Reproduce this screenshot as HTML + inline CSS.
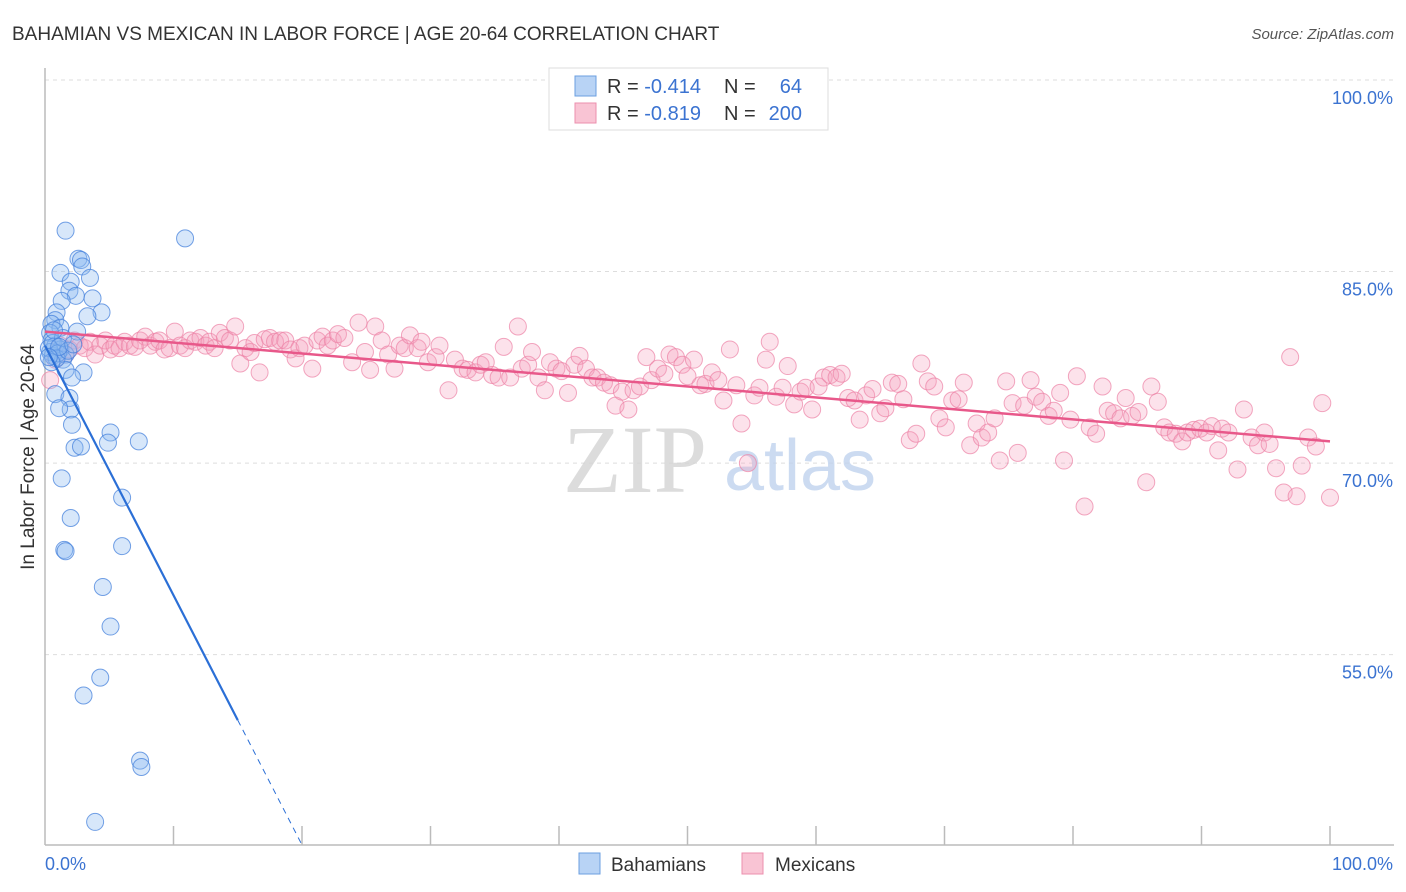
<!DOCTYPE html>
<html><head><meta charset="utf-8"><style>
body{margin:0;background:#fff;font-family:"Liberation Sans",sans-serif;}
svg{display:block}
</style></head><body>
<svg id="chart" width="1406" height="892" viewBox="0 0 1406 892">
<text x="12" y="40" font-size="19" fill="#333">BAHAMIAN VS MEXICAN IN LABOR FORCE | AGE 20-64 CORRELATION CHART</text>
<text x="1394" y="39" font-size="15" fill="#555" font-style="italic" text-anchor="end">Source: ZipAtlas.com</text>
<text x="0" y="0" transform="translate(34,457) rotate(-90)" font-size="19" fill="#333" text-anchor="middle">In Labor Force | Age 20-64</text>
<g id="grid"></g>
<g id="watermark">
<text x="635" y="492" font-size="96" font-family="Liberation Serif,serif" fill="#d4d4d4" text-anchor="middle" opacity="0.8">ZIP</text>
<text x="800" y="490" font-size="72" fill="#c0d3ee" text-anchor="middle" opacity="0.8">atlas</text>
</g>
<g id="axes"></g>
<g id="pink"></g>
<g id="blue"></g>
<g id="trends"></g>
<g>
<rect x="549" y="68" width="279" height="62" fill="#fff" stroke="#ddd"/>
<rect x="575" y="76" width="21" height="20" fill="#b8d3f5" stroke="#6b9fe0"/>
<rect x="575" y="103" width="21" height="20" fill="#f9c4d4" stroke="#ec8fae"/>
<text x="607" y="93" font-size="20" fill="#333">R = <tspan fill="#3b73d1">-0.414</tspan></text>
<text x="724" y="93" font-size="20" fill="#333">N =</text>
<text x="802" y="93" font-size="20" fill="#3b73d1" text-anchor="end">64</text>
<text x="607" y="120" font-size="20" fill="#333">R = <tspan fill="#3b73d1">-0.819</tspan></text>
<text x="724" y="120" font-size="20" fill="#333">N =</text>
<text x="802" y="120" font-size="20" fill="#3b73d1" text-anchor="end">200</text>
</g>
<g>
<rect x="579" y="853" width="21" height="21" fill="#b8d3f5" stroke="#6b9fe0"/>
<text x="611" y="871" font-size="19" fill="#333">Bahamians</text>
<rect x="742" y="853" width="21" height="21" fill="#f9c4d4" stroke="#ec8fae"/>
<text x="775" y="871" font-size="19" fill="#333">Mexicans</text>
</g>
</svg>
<script>
const yTicks=[100,85,70,55];
const xTickCount=10;
const blueX=[1.6,10.9,2.6,2.8,2.9,1.2,3.5,2.0,1.9,2.4,3.7,1.3,4.4,3.3,0.9,0.8,0.5,1.2,2.5,0.4,0.5,0.8,1.2,0.4,1.6,0.6,1.4,1.6,3.0,2.1,0.8,1.9,2.0,1.1,2.1,5.1,7.3,2.3,2.8,4.9,1.3,6.0,2.0,1.5,1.6,6.0,4.5,5.1,4.3,3.0,7.4,7.5,3.9,0.3,0.6,1.0,1.4,0.7,0.9,1.8,0.5,1.1,0.3,2.2];
const blueY=[88.2,87.6,86.0,85.9,85.4,84.9,84.5,84.2,83.5,83.1,82.9,82.7,81.8,81.5,81.8,81.2,80.9,80.6,80.3,80.2,79.6,79.2,78.9,78.7,78.5,78.4,78.1,77.3,77.1,76.7,75.4,75.1,74.2,74.3,73.0,72.4,71.7,71.2,71.3,71.6,68.8,67.3,65.7,63.2,63.1,63.5,60.3,57.2,53.2,51.8,46.7,46.2,41.9,79.0,79.4,78.6,79.8,80.4,78.2,78.8,77.9,79.1,78.3,79.3];
const pinkX=[0.4,0.8,1.2,1.6,1.9,2.3,2.7,3.1,3.5,3.9,4.3,4.7,5.1,5.4,5.8,6.2,6.6,7.0,7.4,7.8,8.2,8.6,8.9,9.3,9.7,10.1,10.5,10.9,11.3,11.7,12.1,12.5,12.8,13.2,13.6,14.0,14.4,14.8,15.2,15.6,16.0,16.3,16.7,17.1,17.5,17.9,18.3,18.7,19.1,19.5,19.8,20.2,20.8,21.2,21.6,22.0,22.4,22.8,23.3,23.9,24.4,24.9,25.3,25.7,26.2,26.7,27.2,27.6,28.0,28.4,29.0,29.3,29.8,30.4,30.7,31.4,31.9,32.5,32.9,33.5,33.9,34.3,34.8,35.3,35.7,36.2,36.8,37.1,37.6,37.9,38.4,38.9,39.3,39.8,40.2,40.7,41.2,41.6,42.1,42.6,43.0,43.5,44.0,44.4,44.9,45.4,45.8,46.3,46.8,47.2,47.7,48.2,48.6,49.1,49.6,50.0,50.5,51.0,51.4,51.9,52.4,52.8,53.3,53.8,54.2,54.7,55.2,55.6,56.1,56.4,56.9,57.4,57.8,58.3,58.8,59.2,59.7,60.2,60.6,61.1,61.6,62.0,62.5,63.0,63.4,63.9,64.4,65.0,65.4,65.9,66.4,66.8,67.3,67.8,68.2,68.7,69.2,69.6,70.1,70.6,71.1,71.5,72.0,72.5,72.9,73.4,73.9,74.3,74.8,75.3,75.7,76.2,76.7,77.1,77.6,78.1,78.5,79.0,79.3,79.8,80.3,80.9,81.3,81.8,82.3,82.7,83.2,83.7,84.1,84.6,85.1,85.7,86.1,86.6,87.1,87.5,88.0,88.5,88.9,89.4,89.9,90.4,90.8,91.3,91.6,92.1,92.8,93.3,93.9,94.4,94.9,95.3,95.8,96.4,96.9,97.4,97.8,98.3,98.9,99.4,100];
const pinkY=[76.5,78.1,79.2,78.5,78.9,79.6,79.2,79.0,79.5,78.5,79.2,79.6,78.9,79.2,79.0,79.5,79.2,79.1,79.6,79.9,79.2,79.5,79.6,78.9,79.0,80.3,79.2,79.0,79.6,79.5,79.8,79.2,79.5,79.0,80.2,79.8,79.6,80.7,77.8,79.0,78.7,79.4,77.1,79.7,79.8,79.5,79.6,79.6,78.9,78.2,79.0,79.2,77.4,79.6,79.9,79.2,79.6,80.1,79.8,77.9,81.0,78.7,77.3,80.7,79.6,78.5,77.4,79.2,79.0,80.0,79.0,79.5,77.9,78.3,79.2,75.7,78.1,77.4,77.3,77.1,77.7,77.9,76.9,76.7,79.1,76.7,80.7,77.4,77.7,78.7,76.7,75.7,77.9,77.4,77.2,75.5,77.7,78.4,77.4,76.7,76.7,76.3,76.1,74.5,75.6,74.2,75.7,76.0,78.3,76.5,77.4,77.0,78.5,78.3,77.7,76.8,78.1,76.1,76.2,77.1,76.5,74.9,78.9,76.1,73.1,70.0,75.3,75.9,78.1,79.5,75.2,75.9,77.6,74.6,75.6,75.9,74.2,76.0,76.7,76.9,76.7,77.0,75.1,74.9,73.4,75.3,75.8,73.9,74.3,76.3,76.2,75.0,71.8,72.3,77.8,76.4,76.0,73.5,72.8,74.9,75.0,76.3,71.4,73.1,72.0,72.4,73.5,70.2,76.4,74.7,70.8,74.5,76.5,75.2,74.8,73.7,74.1,75.5,70.2,73.4,76.8,66.6,72.8,72.3,76.0,74.1,73.9,73.5,75.1,73.7,74.0,68.5,76.0,74.8,72.8,72.4,72.3,71.7,72.4,72.6,72.7,72.4,72.9,71.0,72.7,72.4,69.5,74.2,72.0,71.4,72.4,71.5,69.6,67.7,78.3,67.4,69.8,72.0,71.3,74.7,67.3];
const blueTrend=[79.2,-1.955];
const pinkTrend=[80.3,71.7];

const NS="http://www.w3.org/2000/svg";
const X0=45,X1=1330,Y100=80,PXPCT=12.77,BOTTOM=845;
const sx=v=>X0+(X1-X0)*v/100;
const sy=v=>Y100+(100-v)*PXPCT;
function mk(tag,attrs,parent){const e=document.createElementNS(NS,tag);for(const k in attrs)e.setAttribute(k,attrs[k]);parent.appendChild(e);return e;}
const grid=document.getElementById('grid'),axes=document.getElementById('axes');
yTicks.forEach(t=>{
  const l=mk('line',{x1:X0,x2:1394,y1:sy(t),y2:sy(t),stroke:'#ddd','stroke-dasharray':'4,4'},grid);
  
  
  const tx=mk('text',{x:1393,y:sy(t)+24,'font-size':18,fill:'#3b73d1','text-anchor':'end'},axes);
  tx.textContent=t.toFixed(1)+'%';
  
  
});
mk('line',{x1:X0,x2:X0,y1:68,y2:BOTTOM,stroke:'#bbb','stroke-width':1.5},axes);
mk('line',{x1:X0,x2:1394,y1:BOTTOM,y2:BOTTOM,stroke:'#bbb','stroke-width':1.5},axes);
for(let i=1;i<=xTickCount;i++){
  const t=mk('line',{x1:sx(i*10),x2:sx(i*10),y1:826,y2:BOTTOM,stroke:'#bbb','stroke-width':1.5},axes);
  
  
}
const xl0=mk('text',{x:45,y:870,'font-size':18,fill:'#3b73d1'},axes);xl0.textContent='0.0%';


const xl1=mk('text',{x:1393,y:870,'font-size':18,fill:'#3b73d1','text-anchor':'end'},axes);xl1.textContent='100.0%';



const pg=document.getElementById('pink');
pinkX.forEach((x,i)=>{
  const c=mk('circle',{cx:sx(x),cy:sy(pinkY[i]),r:8.5,fill:'rgba(246,160,190,0.3)',stroke:'rgba(236,130,165,0.7)','stroke-width':1},pg);
  
  
});
const bg=document.getElementById('blue');
blueX.forEach((x,i)=>{
  const c=mk('circle',{cx:sx(x),cy:sy(blueY[i]),r:8.5,fill:'rgba(140,185,240,0.35)',stroke:'rgba(70,130,220,0.75)','stroke-width':1},bg);
  
  
});
const tg=document.getElementById('trends');
const bAt=x=>blueTrend[0]+blueTrend[1]*x;
const bEnd=(blueTrend[0]-(100-(BOTTOM-Y100)/PXPCT))/-blueTrend[1];
const pl=mk('line',{x1:sx(0),y1:sy(pinkTrend[0]),x2:sx(100),y2:sy(pinkTrend[1]),stroke:'#e8588a','stroke-width':2.5},tg);


const bl=mk('line',{x1:sx(0),y1:sy(bAt(0)),x2:sx(15),y2:sy(bAt(15)),stroke:'#2b6fd6','stroke-width':2.2},tg);


const bd=mk('line',{x1:sx(15),y1:sy(bAt(15)),x2:sx(bEnd),y2:sy(bAt(bEnd)),stroke:'#2b6fd6','stroke-width':1,'stroke-dasharray':'6,5'},tg);


</script>
</body></html>
